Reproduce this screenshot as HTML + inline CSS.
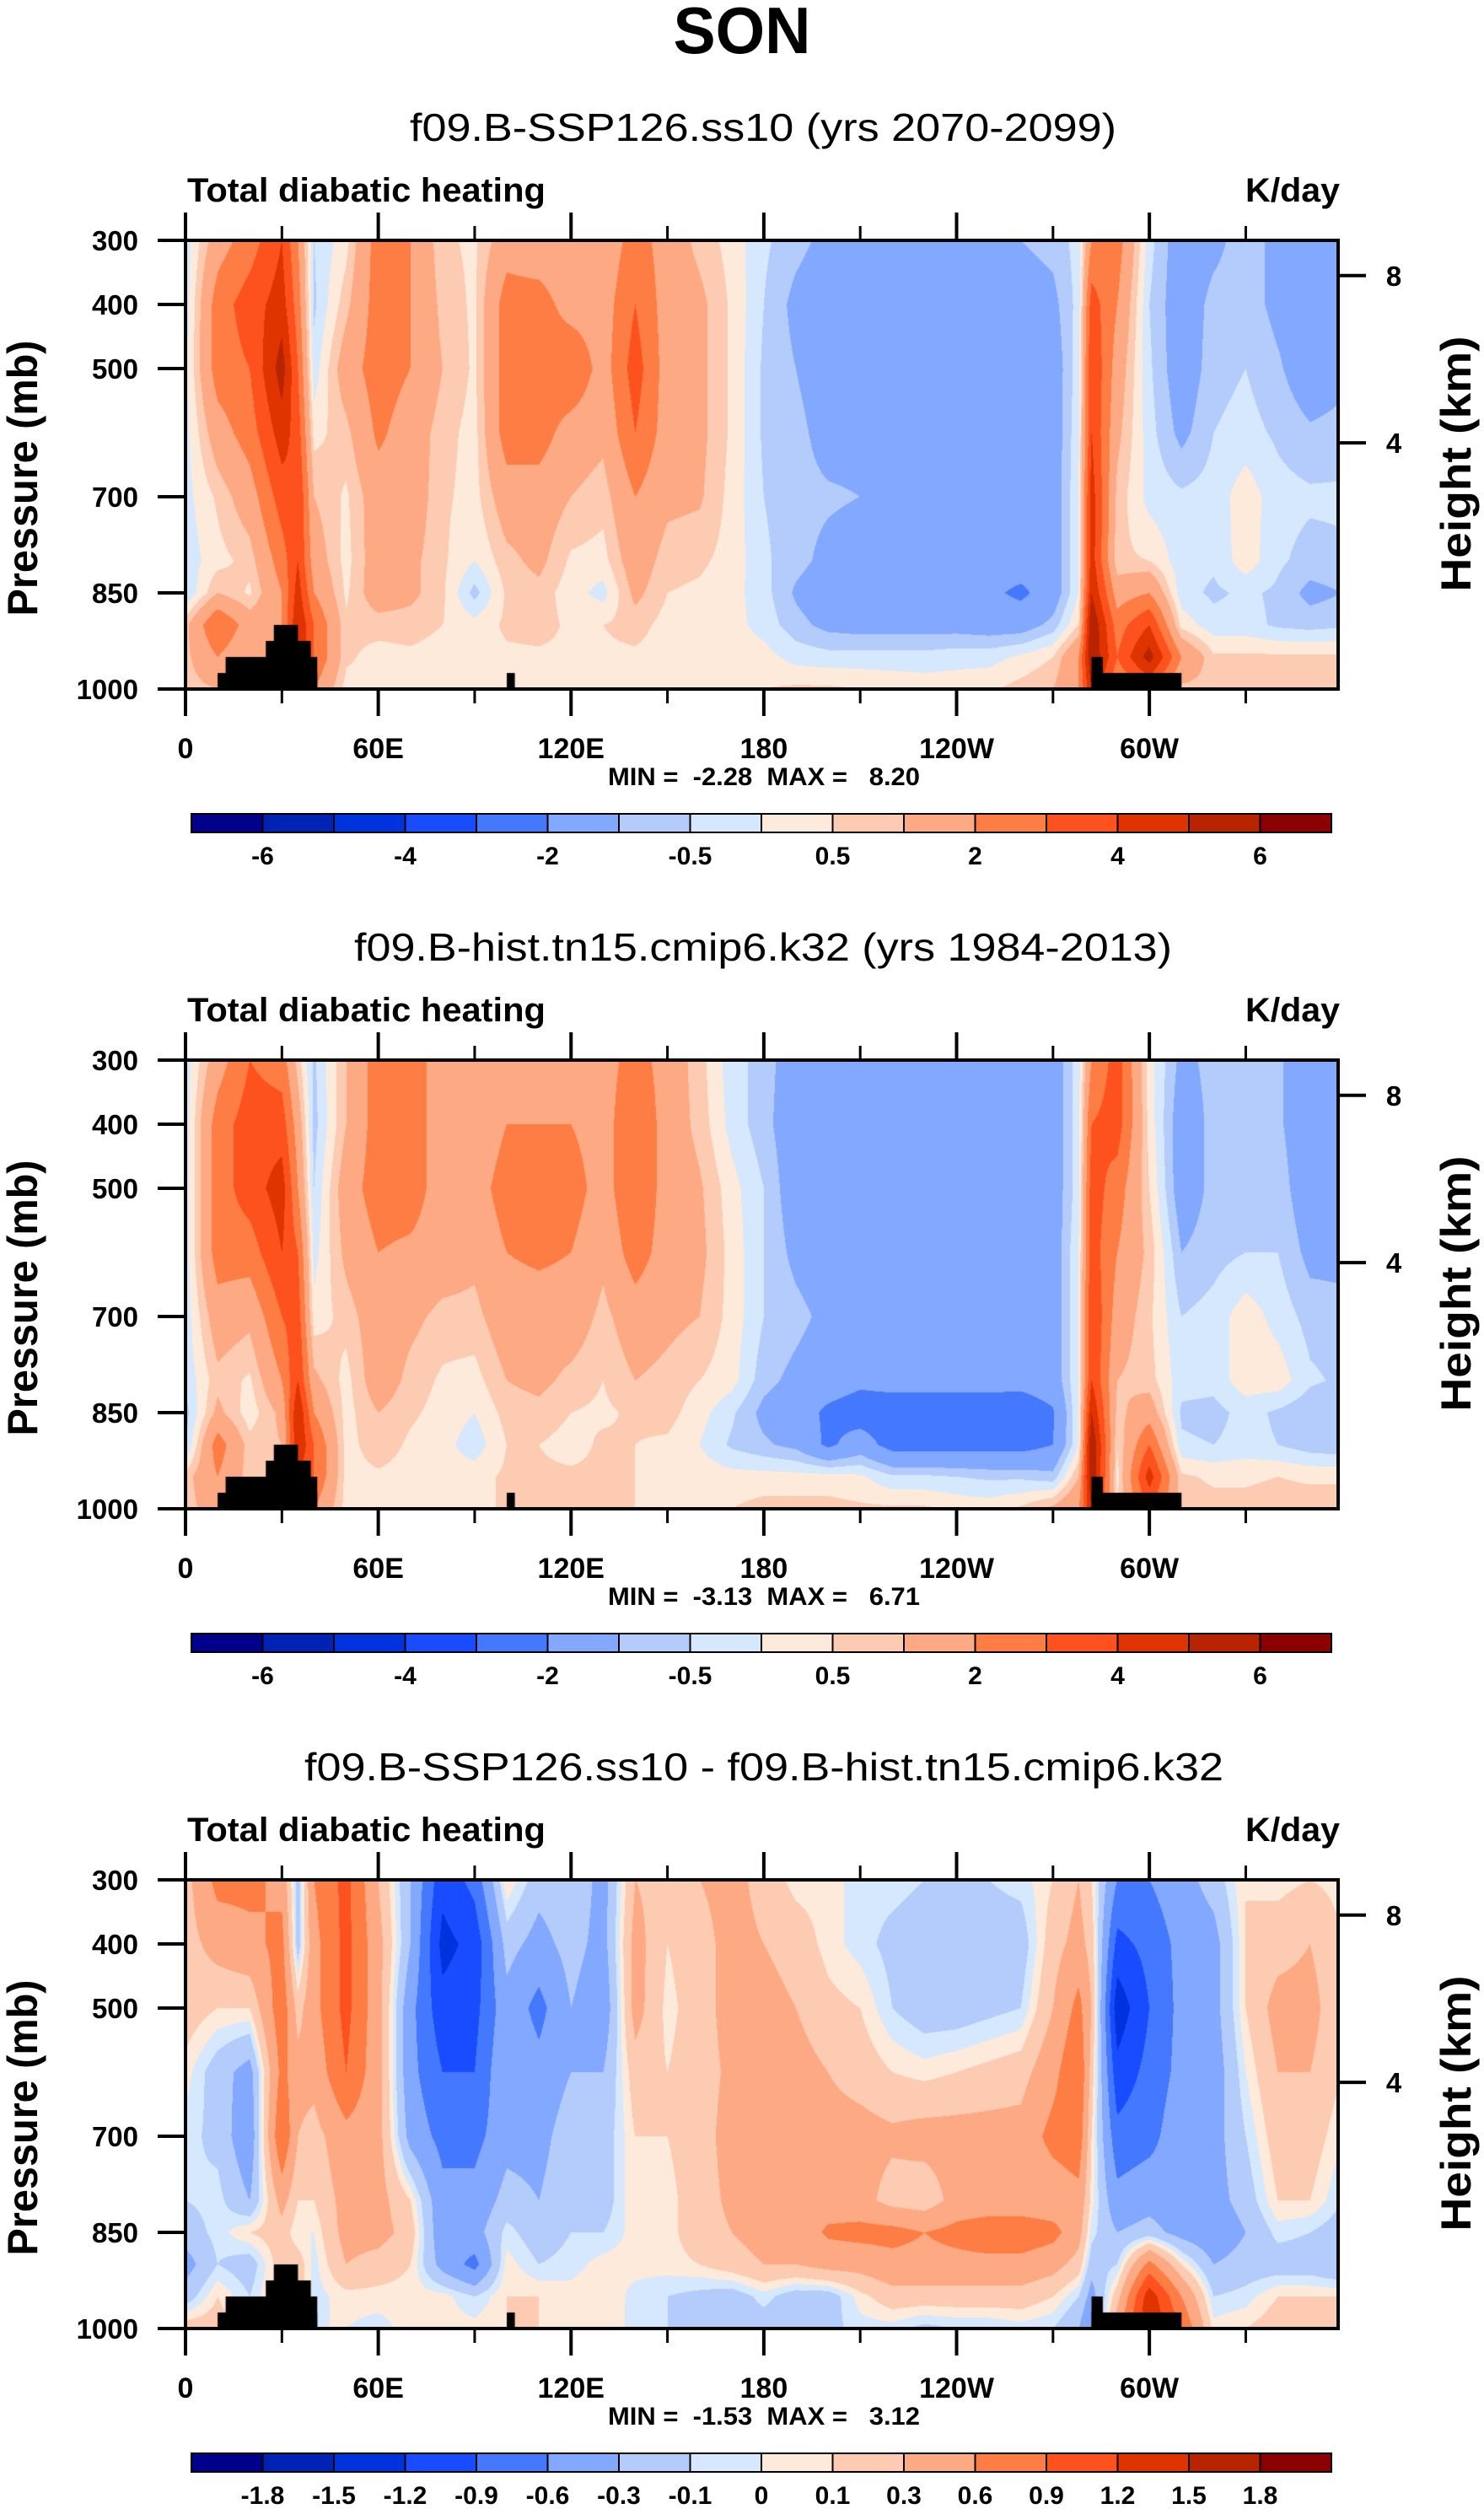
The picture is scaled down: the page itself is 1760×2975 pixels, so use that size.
<!DOCTYPE html>
<html><head><meta charset="utf-8">
<style>
html,body{margin:0;padding:0;background:#fff;}
#wrap{position:relative;width:1760px;height:2975px;overflow:hidden;}
svg text{font-family:"Liberation Sans",Arial,sans-serif;}
canvas{position:absolute;}
</style></head>
<body>
<div id="wrap">
<canvas id="c0"></canvas>
<canvas id="c1"></canvas>
<canvas id="c2"></canvas>
<svg id="ov" width="1760" height="2975" style="position:absolute;left:0;top:0"></svg>
</div>
<script>
// ---------- data ----------
const lonGrid = [0,10,20,30,35,40,50,60,70,80,90,100,110,120,130,140,150,160,170,180,190,200,210,220,230,240,250,260,270,278,282,290,300,310,320,330,340,350,360];
const presGrid = [300,400,500,600,700,800,850,900,950,1000];
const levelsFull = [-6,-5,-4,-3,-2,-1,-0.5,0,0.5,1,2,3,4,5,6];
const levelsDiff = [-1.8,-1.5,-1.2,-0.9,-0.6,-0.3,-0.1,0,0.1,0.3,0.6,0.9,1.2,1.5,1.8];
const labelsFull = ['-6','-4','-2','-0.5','0.5','2','4','6'];
const labelsDiff = ['-1.8','-1.5','-1.2','-0.9','-0.6','-0.3','-0.1','0','0.1','0.3','0.6','0.9','1.2','1.5','1.8'];
const palette = ['#00008a','#0022b5','#0033dd','#1a4cff','#4478ff','#82a8ff','#b4ccfb','#d6e8fd','#feeada','#fdcbb1','#fdaa84','#fd7d45','#fd521d','#e03400','#b82300','#8b0000'];
const xTickLabels = ['0','60E','120E','180','120W','60W'];
const xTickLons = [0,60,120,180,240,300];
const xMinorLons = [30,90,150,210,270,330];
const pTickValues = [300,400,500,700,850,1000];
const hTickLabels = ['8','4'];
const hTickPres = [355,616];
const titles = ['f09.B-SSP126.ss10 (yrs 2070-2099)','f09.B-hist.tn15.cmip6.k32 (yrs 1984-2013)','f09.B-SSP126.ss10 - f09.B-hist.tn15.cmip6.k32'];
const minmax = ['MIN =  -2.28  MAX =   8.20','MIN =  -3.13  MAX =   6.71','MIN =  -1.53  MAX =   3.12'];
// topography mask: [lon1, lon2, top pressure]
const mountains = [[10,41,975],[12.5,41,950],[25,39,925],[27.5,35,900],[100,102.5,975],[282,310,975],[282,285.5,950]];

const p1Values = [
[-0.3,-0.3,-0.2,-0.2,-0.2,-0.3,-0.5,0.8,0.8,0.7],
[1.5,2.5,2.5,1.5,0.6,0.3,1.0,3,2,1],
[2.5,3.5,3,2.5,1.5,0.7,0.4,1.5,1,1],
[4,4.5,5.5,4.5,3.5,2.5,2,2,2,2],
[2,2.5,3,3.5,4,4,4.5,5,5,4],
[-0.5,-0.6,-0.3,0.3,1,1.5,2,3,3,2],
[0.3,0.8,1.5,0.8,0.4,0.3,0.4,0.6,0.6,0.3],
[2.5,2.5,2.5,2.2,1.5,1.5,1.5,0.7,0.3,0.3],
[2,2,2,1.5,1.5,1.2,1.2,0.7,0.4,0.3],
[0.6,0.8,1,0.7,0.6,0.6,0.6,0.5,0.3,0.3],
[0.4,0.4,0.4,0.3,0.3,0,-0.7,0.2,0.3,0.3],
[1.5,2.5,2.5,2.5,1.5,0.8,0.6,0.6,0.4,0.3],
[1.2,2.5,2.5,2.5,1.5,1.2,0.8,0.7,0.4,0.3],
[1.2,1.5,3,1.5,1,0.4,0.2,0.4,0.4,0.3],
[1.2,1.5,1.5,1.2,0.7,0.3,-0.2,0.5,0.4,0.3],
[2.5,3,3.5,3,2,1.5,1.2,0.7,0.4,0.3],
[1.5,1.5,1.5,1.5,1.2,0.7,0.5,0.3,0.3,0.3],
[0.8,1.2,1.2,1.2,1.1,0.6,0.4,0.3,0.3,0.3],
[0.3,0.4,0.4,0.4,0.3,0.3,0.2,0.2,0.3,0.3],
[-0.4,-0.5,-0.6,-0.6,-0.5,-0.4,-0.3,-0.2,0.2,0.5],
[-0.8,-1.2,-1,-0.8,-0.8,-0.8,-1.1,-0.8,-0.2,0.6],
[-1.2,-1.5,-1.5,-1.3,-0.9,-1.2,-1.5,-1.2,-0.3,0.6],
[-1.5,-1.5,-1.5,-1.3,-1.0,-1.4,-1.5,-1.3,-0.3,0.5],
[-1.5,-1.5,-1.5,-1.5,-1.2,-1.5,-1.5,-1.3,-0.3,0.4],
[-1.5,-1.5,-1.5,-1.5,-1.5,-1.5,-1.5,-1.3,-0.3,0.3],
[-1.4,-1.5,-1.5,-1.5,-1.5,-1.5,-1.5,-1.3,-0.2,0.3],
[-1.2,-1.5,-1.5,-1.5,-1.5,-1.5,-1.8,-1.4,-0.2,0.4],
[-1.0,-1.4,-1.5,-1.5,-1.5,-1.5,-2.2,-1.4,0.1,0.7],
[-0.8,-1.2,-1.5,-1.5,-1.5,-1.5,-1.5,-0.8,0.5,1.0],
[-0.3,-0.3,-0.2,-0.1,0,0,0,0.5,2,2],
[2,3.5,4,4,4.5,4.5,5,6,6,5],
[2.5,2,1.5,1.2,0.8,0.6,1.5,2.5,3,2],
[-0.3,-0.5,-0.4,-0.3,-0.2,0.5,2,4,5.5,3],
[-1.5,-1.5,-1.5,-1.2,-0.4,-0.3,-0.3,0.3,2,0.8],
[-1.2,-0.8,-0.7,-0.5,-0.3,-0.4,-0.6,-0.3,0.6,0.8],
[-0.7,-0.7,-0.5,-0.3,0.3,0.3,-0.4,-0.3,0.6,0.8],
[-1.2,-1.2,-0.9,-0.6,-0.3,-0.4,-0.6,-0.6,0.6,0.8],
[-1.5,-1.5,-1.5,-0.9,-0.4,-0.7,-1.2,-0.7,0.6,0.8],
[-1.5,-1.5,-1.2,-0.8,-0.4,-0.6,-1,-0.6,0.6,0.8]
];
const p2Values = [
[-0.3,-0.3,-0.3,-0.3,-0.3,-0.4,-0.7,-0.6,0.7,0.7],
[1.5,2.5,2.5,2.5,1.5,0.8,1.2,2.5,2,1.5],
[3,3.5,3.5,2.5,1.2,0.4,0.2,0.7,0.7,0.7],
[2.5,3.5,4.5,4,3,2,1.2,1,1,1],
[0.7,1.5,2,3,3.5,4,5,5,4,3],
[-0.6,-0.7,-0.5,-0.2,0.2,1.2,2,3,3,2],
[1,1,1.5,1.2,0.7,0.3,0.3,0.3,0.3,0.3],
[2.5,2.5,2.5,2,1.5,1.5,1,0.8,0.4,0.3],
[2.5,2.5,2.5,1.8,1.2,0.8,0.6,0.4,0.3,0.3],
[1.5,1.5,1.5,1.5,0.8,0.4,0.3,0.2,0.2,0.3],
[1.2,1.2,1.5,1.2,0.8,0.3,0,-0.3,0.3,0.3],
[1.5,2,2.5,2,1.5,1,0.7,0.5,0.6,0.6],
[1.5,2,2.5,2.2,1.5,1.2,0.8,0.5,0.6,0.6],
[1.2,2,2.5,2,1.5,0.8,0.5,0.3,0.6,0.6],
[1.5,1.5,1.5,1.2,0.8,0.5,0.4,0.6,0.6,0.6],
[2.5,3,3,2.5,1.5,1,0.6,0.5,0.5,0.5],
[1.5,1.5,1.5,1.5,1.2,0.8,0.7,0.4,0.4,0.4],
[0.7,0.8,1.1,1.2,1,0.5,0.2,0,0.3,0.3],
[-0.3,-0.2,0.2,0.3,0.3,0.2,-0.4,-0.6,0.2,0.5],
[-0.7,-0.8,-0.5,-0.5,-0.5,-0.8,-1.2,-0.9,0.2,0.7],
[-1.5,-1.5,-1.5,-1.2,-0.8,-1.2,-1.5,-1.2,0.2,0.7],
[-1.5,-1.5,-1.5,-1.5,-1.2,-1.5,-2.2,-2.2,0.2,0.7],
[-1.5,-1.5,-1.5,-1.5,-1.5,-1.8,-2.5,-1.5,0.1,0.6],
[-1.5,-1.5,-1.5,-1.5,-1.5,-1.7,-2.5,-2.4,-0.4,0.6],
[-1.5,-1.5,-1.5,-1.5,-1.5,-1.7,-2.5,-2.4,-0.4,0.6],
[-1.5,-1.5,-1.5,-1.5,-1.5,-1.7,-2.5,-2.4,-0.5,0.4],
[-1.5,-1.5,-1.5,-1.5,-1.5,-1.7,-2.5,-2.4,-0.6,0.3],
[-1.5,-1.5,-1.5,-1.5,-1.5,-1.7,-2.6,-2.4,-0.6,0.6],
[-1.5,-1.5,-1.5,-1.5,-1.5,-1.5,-2.1,-2,-0.8,1.2],
[-0.2,-0.2,-0.2,0,0,0,0,0,1,2],
[2,3,3.5,3.5,4,4,5,6,6,5],
[3.5,3.5,2.5,2,1.5,1,0.8,0.5,0.3,0.5],
[0.2,0.3,0.5,0.8,0.6,0.7,1.5,3,4.5,3],
[-1.2,-1.5,-1.5,-1,-0.5,-0.3,-0.6,-0.4,0.6,0.8],
[-0.8,-0.8,-0.8,-0.7,-0.3,-0.3,-0.7,-0.5,0.4,0.7],
[-0.8,-0.7,-0.6,-0.5,0.3,0.3,-0.3,-0.3,0.4,0.7],
[-0.9,-0.9,-0.7,-0.5,-0.2,0.3,-0.6,-0.5,0.5,0.8],
[-1.5,-1.5,-1.5,-1.2,-0.7,-0.4,-0.9,-0.8,0.4,0.8],
[-1.5,-1.5,-1.5,-1.2,-0.8,-0.6,-1,-0.9,0.4,0.8]
];
const p3Values = [
[0.2,0.2,0.2,0.05,-0.05,-0.1,-0.2,-0.4,-0.2,0.2],
[0.7,0.4,0.1,-0.2,-0.15,-0.05,-0.05,-0.1,0.1,0.2],
[0.7,0.5,0.1,-0.4,-0.5,-0.3,0.1,-0.2,-0.1,0],
[0.5,0.7,0.8,0.7,0.9,0.4,0.2,0.2,0.2,0.2],
[-0.2,-0.2,0.2,0.4,0.3,0.1,0,0.2,0.2,0.2],
[0.6,0.5,0.5,0.4,0.2,0.1,0,-0.05,-0.05,0],
[1,1,1,0.9,0.5,0.4,0.4,0.3,0.05,0],
[0.3,0.4,0.4,0.4,0.4,0.4,0.4,0.2,0.05,-0.05],
[-0.3,-0.3,-0.5,-0.5,-0.4,0.1,0.2,0.1,0.05,0.05],
[-1.1,-1.3,-1.1,-0.9,-0.7,-0.5,-0.5,-0.4,0.05,0.05],
[-0.8,-1.1,-1.0,-0.9,-0.7,-0.5,-0.4,-0.7,-0.1,0.05],
[0.1,-0.2,-0.4,-0.3,-0.4,-0.2,-0.05,0.05,0.1,0.1],
[-0.2,-0.4,-0.7,-0.5,-0.4,-0.3,-0.2,-0.1,0.1,0.1],
[-0.1,-0.2,-0.3,-0.3,-0.15,-0.1,-0.1,-0.05,0.05,0.1],
[-0.4,-0.4,-0.5,-0.3,-0.2,-0.2,-0.1,0.05,0.1,0.1],
[0.3,0.4,0.4,0.2,0.1,0.1,0.05,0.05,-0.05,-0.05],
[0.2,0.1,0.05,0.1,0.1,0.05,0.05,0.05,-0.1,-0.1],
[0.3,0.2,0.2,0.2,0.2,0.2,0.2,0.1,-0.15,-0.1],
[0.4,0.4,0.4,0.35,0.4,0.35,0.3,0.2,-0.2,-0.2],
[0.2,0.3,0.4,0.4,0.4,0.4,0.4,0.3,-0.05,-0.2],
[0.05,0.2,0.3,0.4,0.4,0.4,0.4,0.3,-0.2,-0.2],
[0.05,0.05,0.15,0.3,0.4,0.45,0.65,0.4,-0.2,-0.15],
[-0.05,-0.05,0.1,0.2,0.4,0.4,0.7,0.4,0.05,-0.05],
[-0.05,-0.15,-0.1,0.1,0.35,0.2,0.7,0.5,0.2,-0.05],
[-0.1,-0.2,-0.2,0.05,0.4,0.15,0.6,0.5,0.2,-0.15],
[-0.2,-0.2,-0.2,0.1,0.4,0.4,0.7,0.5,0.2,-0.1],
[-0.1,-0.2,-0.15,0.15,0.4,0.4,0.8,0.5,0.2,-0.1],
[-0.05,-0.2,-0.1,0.2,0.4,0.4,0.8,0.5,0.2,-0.05],
[0.1,0.2,0.3,0.5,0.7,0.4,0.7,0.4,0.1,-0.1],
[0.3,0.4,0.7,0.9,0.8,0.5,0.4,0.2,-0.1,-0.3],
[0.1,0.2,0.3,0.2,0.1,0.05,-0.05,-0.2,-0.4,-0.6],
[-0.6,-1,-1.4,-1.1,-0.8,-0.5,-0.3,-0.1,0.2,0.5],
[-0.6,-0.8,-0.9,-0.8,-0.7,-0.4,-0.2,0.7,1.4,1.5],
[-0.4,-0.5,-0.5,-0.5,-0.4,-0.5,-0.4,0.1,0.6,0.9],
[-0.2,-0.4,-0.4,-0.45,-0.4,-0.4,-0.5,-0.3,-0.1,0.05],
[0.1,0.1,0.1,0,-0.1,-0.2,-0.3,-0.2,-0.05,0.1],
[0.05,0.2,0.4,0.3,0.2,0.1,-0.05,-0.2,0.1,0.2],
[0.1,0.3,0.4,0.3,0.2,0.1,-0.1,-0.2,0.1,0.2],
[0.05,0.1,0.1,0.1,0,-0.1,-0.2,-0.3,0.1,0.2]
];

// ---------- layout ----------
const PX0 = 220, PX1 = 1587, PTOP = 285, PBOT = 817, DY = 972, LONMAX = 358.75;
const CBX0 = 227, CBX1 = 1579, CBY0 = 965, CBY1 = 987;
function xScale(lon){ return PX0 + lon/LONMAX*(PX1-PX0); }
function yScale(p, dy){ return PTOP + dy + (p-300)/700*(PBOT-PTOP); }

function hexRGB(h){ return [parseInt(h.substr(1,2),16),parseInt(h.substr(3,2),16),parseInt(h.substr(5,2),16)]; }
const palRGB = palette.map(hexRGB);

function interp(vals, lon, p){
  let i=0; while(i<lonGrid.length-2 && lon>lonGrid[i+1]) i++;
  let j=0; while(j<presGrid.length-2 && p>presGrid[j+1]) j++;
  const tx=(lon-lonGrid[i])/(lonGrid[i+1]-lonGrid[i]);
  const ty=(p-presGrid[j])/(presGrid[j+1]-presGrid[j]);
  const a=vals[i][j],b=vals[i+1][j],c=vals[i][j+1],d=vals[i+1][j+1];
  return (a*(1-tx)+b*tx)*(1-ty)+(c*(1-tx)+d*tx)*ty;
}

function drawPanel(k, vals, levels){
  const cv=document.getElementById('c'+k);
  const W=PX1-PX0, H=PBOT-PTOP;
  cv.width=W; cv.height=H;
  cv.style.left=PX0+'px'; cv.style.top=(PTOP+k*DY)+'px';
  const ctx=cv.getContext('2d');
  const img=ctx.createImageData(W,H);
  for(let y=0;y<H;y++){
    const p=300+(y+0.5)/H*700;
    for(let x=0;x<W;x++){
      const lon=(x+0.5)/W*LONMAX;
      const v=interp(vals,lon,p);
      let idx=0; while(idx<levels.length && v>=levels[idx]) idx++;
      const c=palRGB[idx]; const o=(y*W+x)*4;
      img.data[o]=c[0];img.data[o+1]=c[1];img.data[o+2]=c[2];img.data[o+3]=255;
    }
  }
  ctx.putImageData(img,0,0);
  ctx.fillStyle='#000';
  mountains.forEach(m=>{
    const x0=xScale(m[0])-PX0, x1=xScale(m[1])-PX0, y0=yScale(m[2],0)-PTOP;
    ctx.fillRect(x0,y0,x1-x0,H-y0);
  });
}

const NS='http://www.w3.org/2000/svg';
const ov=document.getElementById('ov');
function el(tag, attrs, parent, txt){
  const e=document.createElementNS(NS,tag);
  for(const k in attrs) e.setAttribute(k,attrs[k]);
  if(txt!==undefined) e.textContent=txt;
  (parent||ov).appendChild(e); return e;
}

const t0 = el('text',{x:880,y:63,'text-anchor':'middle','font-size':78,'font-weight':'bold',textLength:163,lengthAdjust:'spacingAndGlyphs'},ov,'SON');



const allVals=[p1Values,p2Values,p3Values];
const tWidths=[[486,1324],[420,1390],[361,1451]];
for(let k=0;k<3;k++){
  const dy=k*DY;
  const levels = k<2?levelsFull:levelsDiff;
  drawPanel(k, allVals[k], levels);
  const g=el('g',{});
  
  
  const st=el('text',{x:(tWidths[k][0]+tWidths[k][1])/2,y:167+dy,'text-anchor':'middle','font-size':46,textLength:tWidths[k][1]-tWidths[k][0],lengthAdjust:'spacingAndGlyphs'},g,titles[k]);
  
  
  const lt=el('text',{x:222,y:239+dy,'font-size':40,'font-weight':'bold',textLength:425,lengthAdjust:'spacingAndGlyphs'},g,'Total diabatic heating');
  
  
  const ut=el('text',{x:1589,y:239+dy,'text-anchor':'end','font-size':40,'font-weight':'bold',textLength:112,lengthAdjust:'spacingAndGlyphs'},g,'K/day');
  
  
  const fr=el('rect',{x:PX0,y:PTOP+dy,width:PX1-PX0,height:PBOT-PTOP,fill:'none',stroke:'#000','stroke-width':4},g);
  
  
  xTickLons.forEach((lon,i)=>{
    const x=xScale(lon);
    const a=el('line',{x1:x,x2:x,y1:PTOP+dy,y2:PTOP+dy-33,stroke:'#000','stroke-width':4},g);
    
    
    const b=el('line',{x1:x,x2:x,y1:PBOT+dy,y2:PBOT+dy+32,stroke:'#000','stroke-width':4},g);
    
    
    const t=el('text',{x:x,y:899+dy,'text-anchor':'middle','font-size':34,'font-weight':'bold'},g,xTickLabels[i]);
    
    
  });
  xMinorLons.forEach(lon=>{
    const x=xScale(lon);
    const a=el('line',{x1:x,x2:x,y1:PTOP+dy,y2:PTOP+dy-17,stroke:'#000','stroke-width':3},g);
    
    
    const b=el('line',{x1:x,x2:x,y1:PBOT+dy,y2:PBOT+dy+17,stroke:'#000','stroke-width':3},g);
    
    
  });
  pTickValues.forEach(p=>{
    const y=yScale(p,dy);
    const a=el('line',{x1:PX0,x2:PX0-33,y1:y,y2:y,stroke:'#000','stroke-width':4},g);
    
    
    const t=el('text',{x:164,y:y+12,'text-anchor':'end','font-size':33,'font-weight':'bold'},g,String(p));
    
    
  });
  hTickPres.forEach((p,i)=>{
    const y=yScale(p,dy);
    const a=el('line',{x1:PX1,x2:PX1+33,y1:y,y2:y,stroke:'#000','stroke-width':4},g);
    
    
    const t=el('text',{x:1653,y:y+12,'text-anchor':'middle','font-size':33,'font-weight':'bold'},g,hTickLabels[i]);
    
    
  });
  const yl=el('text',{x:0,y:0,'text-anchor':'middle','font-size':50,'font-weight':'bold',textLength:327,lengthAdjust:'spacingAndGlyphs',transform:'translate(44,'+(567+dy)+') rotate(-90)'},g,'Pressure (mb)');
  
  
  const hl=el('text',{x:0,y:0,'text-anchor':'middle','font-size':50,'font-weight':'bold',textLength:303,lengthAdjust:'spacingAndGlyphs',transform:'translate(1744,'+(550+dy)+') rotate(-90)'},g,'Height (km)');
  
  
  const mm=el('text',{x:906,y:931+dy,'text-anchor':'middle','font-size':30,'font-weight':'bold',textLength:370,lengthAdjust:'spacingAndGlyphs','xml:space':'preserve',style:'white-space:pre'},g,minmax[k]);
  
  
  const cb=el('g',{},g);
  
  
  const bw=(CBX1-CBX0)/palette.length;
  palette.forEach((c,i)=>{
    const r=el('rect',{x:CBX0+i*bw,y:CBY0+dy,width:bw,height:CBY1-CBY0,fill:c,stroke:'#000','stroke-width':2},cb);
    
    
  });
  const labs = k<2?labelsFull:labelsDiff;
  const step = k<2?2:1;
  labs.forEach((l,i)=>{
    const x=CBX0+(1+i*step)*bw;
    const t=el('text',{x:x,y:1025+dy,'text-anchor':'middle','font-size':30,'font-weight':'bold'},cb,l);
    
    
  });
}
</script>
</body></html>
